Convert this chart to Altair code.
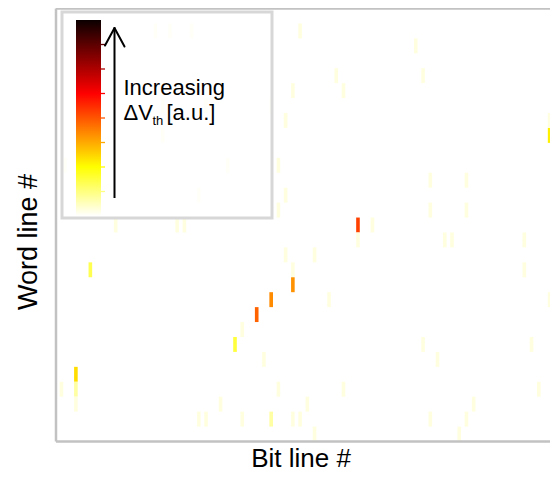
import altair as alt
import pandas as pd

# ---- data: cells of the Delta Vth map (bit line index, word line index from bottom, value 0..1)
cell_bl = [27, 31, 37, 67,
           99,
           77, 101,
           65, 79,
           29, 41, 59,
           63, 136,
           29, 136,
           2, 47, 61,
           103, 113,
           39, 63,
           61, 103, 113,
           16, 33, 35, 83, 87,
           83, 107, 109, 129,
           63, 71,
           9, 65, 129,
           65,
           59, 75, 136,
           55,
           51,
           49, 101, 131,
           57, 105,
           5,
           1, 5, 61, 79, 133,
           5, 45, 69, 115,
           39, 41, 51, 59, 65, 67, 103, 113,
           71, 111]
cell_wl = [27, 27, 27, 27,
           26,
           24, 24,
           23, 23,
           22, 22, 22,
           21, 21,
           20, 20,
           18, 18, 18,
           17, 17,
           16, 16,
           15, 15, 15,
           14, 14, 14, 14, 14,
           13, 13, 13, 13,
           12, 12,
           11, 11, 11,
           10,
           9, 9, 9,
           8,
           7,
           6, 6, 6,
           5, 5,
           4,
           3, 3, 3, 3, 3,
           2, 2, 2, 2,
           1, 1, 1, 1, 1, 1, 1, 1,
           0, 0]
cell_val = [0.03, 0.03, 0.03, 0.03,
            0.03,
            0.03, 0.03,
            0.03, 0.03,
            0.03, 0.03, 0.03,
            0.03, 0.03,
            0.03, 0.27,
            0.03, 0.03, 0.03,
            0.03, 0.03,
            0.03, 0.03,
            0.03, 0.03, 0.03,
            0.03, 0.03, 0.03, 0.53, 0.03,
            0.03, 0.03, 0.03, 0.03,
            0.03, 0.03,
            0.17, 0.03, 0.03,
            0.41,
            0.42, 0.03, 0.03,
            0.48,
            0.03,
            0.19, 0.03, 0.03,
            0.03, 0.03,
            0.30,
            0.03, 0.09, 0.03, 0.03, 0.03,
            0.03, 0.03, 0.03, 0.03,
            0.03, 0.03, 0.03, 0.09, 0.03, 0.03, 0.03, 0.03,
            0.03, 0.03]

n_bit_lines = 136.6
n_word_lines = 29

# colour map (reversed "hot"): stops and colours
cmap_stops = [0, 0.25, 0.625, 1]
cmap_colors = ["#ffffff", "#ffff00", "#ff0000", "#0b0000"]
colorbar_ticks = [0.125, 0.25, 0.375, 0.5, 0.625, 0.75, 0.875]

x_title = "Bit line #"
y_title = "Word line #"
legend_line1 = "Increasing"

W, H = 494, 433
FRAME = "#c2c2c2"
FONT = "Liberation Sans"

df = pd.DataFrame({"bl": cell_bl, "wl": cell_wl, "v": cell_val})
color_scale = alt.Scale(domain=cmap_stops, range=cmap_colors, interpolate="rgb")
one = pd.DataFrame({"a": [0]})

cells = alt.Chart(df).transform_calculate(
    bl2="datum.bl + 1", wl2="datum.wl + 1"
).mark_rect().encode(
    x=alt.X("bl:Q", scale=alt.Scale(domain=[0, n_bit_lines], nice=False, zero=False), axis=None),
    x2="bl2:Q",
    y=alt.Y("wl:Q", scale=alt.Scale(domain=[0, n_word_lines], nice=False, zero=False), axis=None),
    y2="wl2:Q",
    color=alt.Color("v:Q", scale=color_scale, legend=None),
)

frame_top = alt.Chart(one).mark_rule(color=FRAME, strokeWidth=2.5).encode(
    x=alt.value(0), x2=alt.value(W), y=alt.value(0))
frame_left = alt.Chart(one).mark_rule(color=FRAME, strokeWidth=2.5).encode(
    x=alt.value(0), y=alt.value(0), y2=alt.value(H))
frame_bottom = alt.Chart(one).mark_rule(color=FRAME, strokeWidth=2.5).encode(
    x=alt.value(0), x2=alt.value(W), y=alt.value(H))

legend_box = alt.Chart(one).mark_rect(
    fill="white", fillOpacity=0.78, stroke="#d7d7d7", strokeWidth=3
).encode(x=alt.value(6), x2=alt.value(216), y=alt.value(3.5), y2=alt.value(209.5))

grad = alt.LinearGradient(
    gradient="linear",
    stops=[alt.GradientStop(color=c, offset=o) for o, c in zip(cmap_stops, cmap_colors)],
    x1=0, x2=0, y1=1, y2=0,
)
colorbar = alt.Chart(one).mark_rect(fill=grad).encode(
    x=alt.value(20), x2=alt.value(45), y=alt.value(11.5), y2=alt.value(207.5))

cb_ticks = alt.Chart(pd.DataFrame({"t": colorbar_ticks})).mark_rule(strokeWidth=1.3).encode(
    x=alt.value(45), x2=alt.value(49),
    y=alt.Y("t:Q", scale=alt.Scale(domain=[0, 1], range=[207.5, 11.5]), axis=None),
    color=alt.Color("t:Q", scale=color_scale, legend=None),
)

arrow_shaft = alt.Chart(one).mark_rule(color="black", strokeWidth=2).encode(
    x=alt.value(58.5), y=alt.value(20), y2=alt.value(189.5))
arrow_l = alt.Chart(one).mark_rule(color="black", strokeWidth=2, strokeCap="round").encode(
    x=alt.value(49), y=alt.value(37), x2=alt.value(58.5), y2=alt.value(19.5))
arrow_r = alt.Chart(one).mark_rule(color="black", strokeWidth=2, strokeCap="round").encode(
    x=alt.value(58.5), y=alt.value(19.5), x2=alt.value(68.5), y2=alt.value(38))

t_inc = alt.Chart(one).mark_text(text=legend_line1, font=FONT, fontSize=22, align="left",
                                 baseline="alphabetic", color="black").encode(
    x=alt.value(67.5), y=alt.value(86.5))
t_dv = alt.Chart(one).mark_text(text="\u0394V", font=FONT, fontSize=22, align="left",
                                baseline="alphabetic", color="black").encode(
    x=alt.value(67.5), y=alt.value(111.5))
t_th = alt.Chart(one).mark_text(text="th", font=FONT, fontSize=13, align="left",
                                baseline="alphabetic", color="black").encode(
    x=alt.value(96.5), y=alt.value(116.5))
t_au = alt.Chart(one).mark_text(text="[a.u.]", font=FONT, fontSize=22, align="left",
                                baseline="alphabetic", color="black").encode(
    x=alt.value(110.5), y=alt.value(111.5))

t_x = alt.Chart(one).mark_text(text=x_title, font=FONT, fontSize=26, align="center",
                               baseline="alphabetic", color="black").encode(
    x=alt.value(245), y=alt.value(458.5))
t_y = alt.Chart(one).mark_text(text=y_title, font=FONT, fontSize=27, align="center",
                               baseline="alphabetic", angle=270, color="black").encode(
    x=alt.value(-19.3), y=alt.value(233.5))

chart = alt.layer(
    cells, legend_box, colorbar, cb_ticks, arrow_shaft, arrow_l, arrow_r,
    t_inc, t_dv, t_th, t_au, frame_top, frame_left, frame_bottom, t_x, t_y,
).resolve_scale(y="independent").properties(
    width=W, height=H,
    autosize=alt.AutoSizeParams(type="none"),
    padding={"left": 48, "top": 0.5, "right": 0, "bottom": 31.5},
    background="white",
).configure_view(stroke="transparent")

chart.save("out.html", embed_options={"renderer": "svg", "actions": False})
